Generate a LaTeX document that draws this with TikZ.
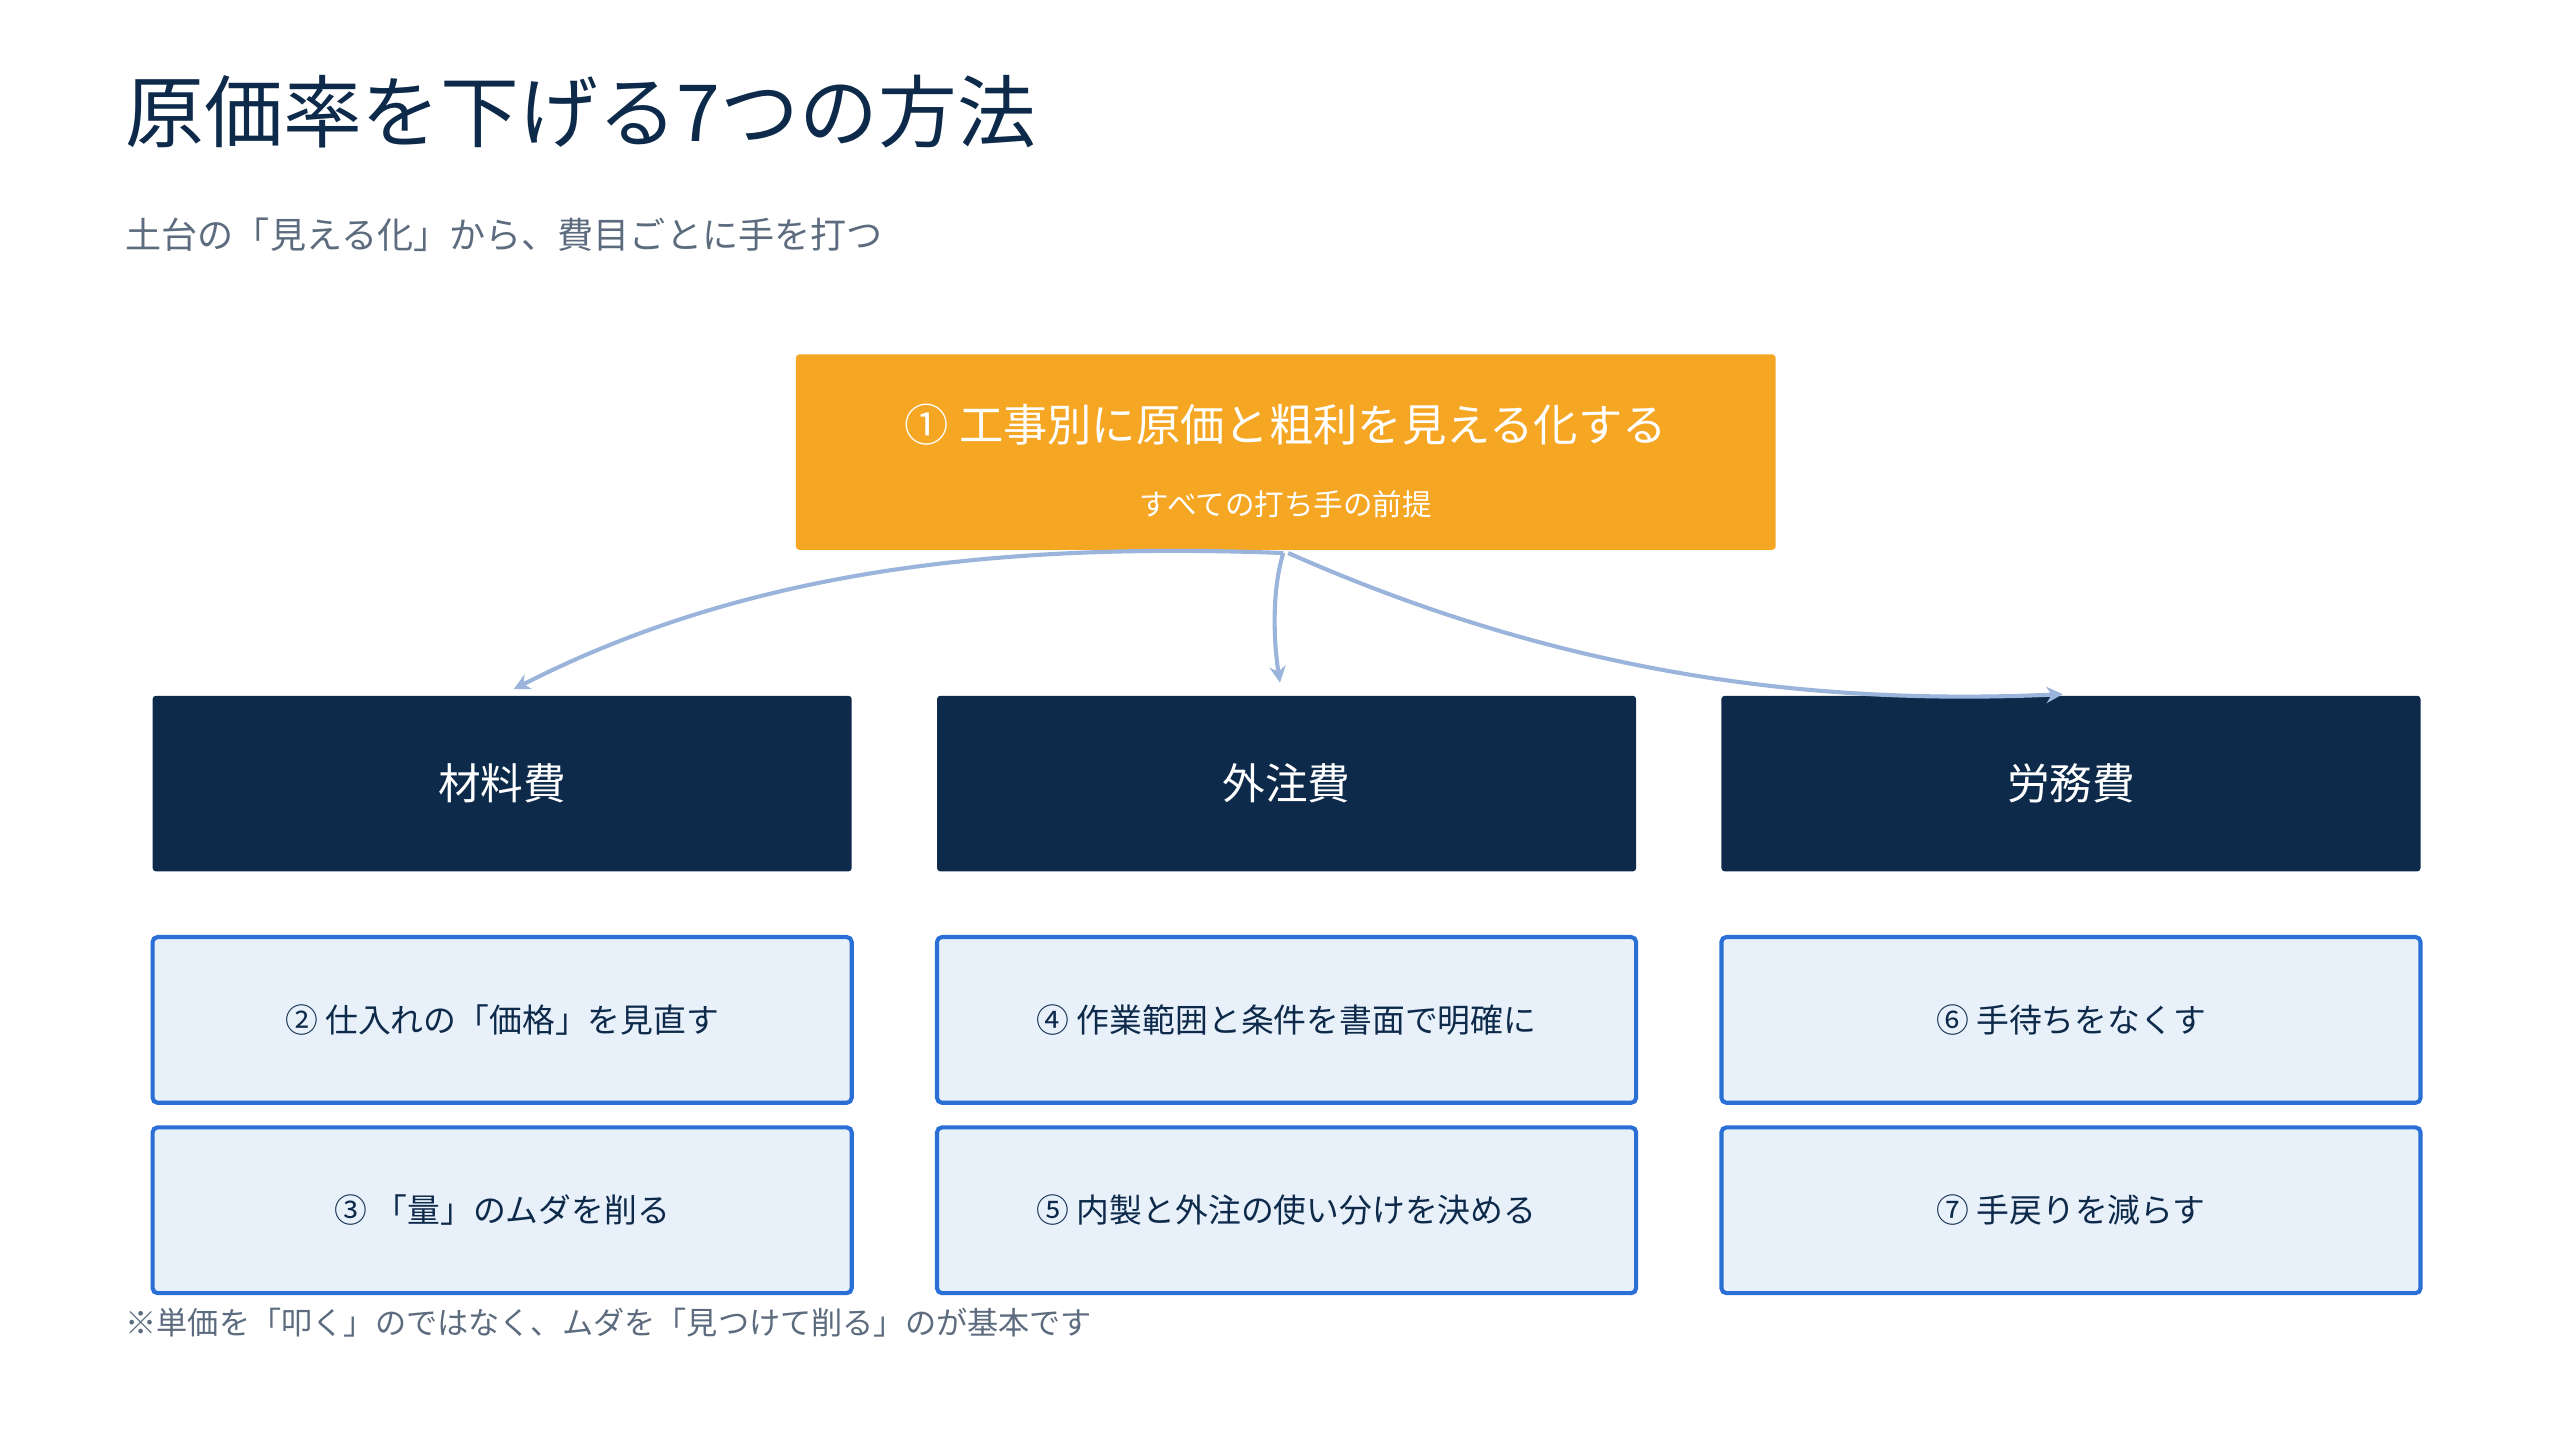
\documentclass[tikz,border=0pt]{standalone}
\usepackage{fontspec}
\setmainfont{Noto Sans CJK JP}
\usetikzlibrary{arrows.meta}
\definecolor{navy}{HTML}{0D2A4A}
\definecolor{sub}{HTML}{5C6B7D}
\definecolor{orange}{HTML}{F5A623}
\definecolor{lightbg}{HTML}{E8F0FA}
\definecolor{blueb}{HTML}{2A6FD6}
\definecolor{arr}{HTML}{9AB4DC}
\newcommand{\fs}[1]{\fontsize{#1}{#1}\selectfont}
\begin{document}
\begin{tikzpicture}[x=1pt,y=-1pt,
  cat/.style={fill=navy,rounded corners=2pt,text=white,font=\fs{26}},
  item/.style={fill=lightbg,draw=blueb,line width=2.5pt,rounded corners=3pt,text=navy,font=\fs{20}},
  conn/.style={draw=arr,line width=2.5pt,-{Stealth[length=10pt,width=10pt]}}]
\path[use as bounding box] (0,0) rectangle (1560,878);
\node[anchor=west,text=navy,font=\fs{48}] (title) at (73,68) {原価率を下げる7つの方法};
\node[anchor=west,text=sub,font=\fs{22}] (subt) at (73,143) {土台の「見える化」から、費目ごとに手を打つ};
\fill[orange,rounded corners=2pt] (485,216) rectangle (1082,335);
\node (top) at (783.5,275.5) [minimum width=597pt,minimum height=119pt] {};
\node[text=white,font=\fs{27}] (tt) at (783.5,259) {① 工事別に原価と粗利を見える化する};
\node[text=white,font=\fs{18}] (ts) at (783.5,307) {すべての打ち手の前提};
\foreach \n/\x/\t in {a/93/材料費,b/571/外注費,c/1049/労務費}{
  \path[cat] (\x,424) rectangle ++(426,107);
  \node[text=white,font=\fs{26}] (\n) at (\x+213,477.5) {\t};
}
\foreach \n/\x/\y/\t in {i2/93/571/② 仕入れの「価格」を見直す,i3/93/687/③ 「量」のムダを削る,i4/571/571/④ 作業範囲と条件を書面で明確に,i5/571/687/⑤ 内製と外注の使い分けを決める,i6/1049/571/⑥ 手待ちをなくす,i7/1049/687/⑦ 手戻りを減らす}{
  \path[item] (\x,\y) rectangle ++(426,101);
  \node[text=navy,font=\fs{20}] (\n) at (\x+213,\y+50.5) {\t};
}
\node[anchor=west,text=sub,font=\fs{19}] (note) at (73,806) {※単価を「叩く」のではなく、ムダを「見つけて削る」のが基本です};
\coordinate (s) at (782,337);
\coordinate (ea) at (313,420);
\coordinate (eb) at (780,416);
\coordinate (ec) at (1257,423);
\draw[conn] (s) .. controls (600,330) and (450,350) .. (ea);
\draw[conn] (s) .. controls (775,360) and (776,390) .. (eb);
\draw[conn] (785,337) .. controls (950,410) and (1100,430) .. (ec);
\end{tikzpicture}
\end{document}
